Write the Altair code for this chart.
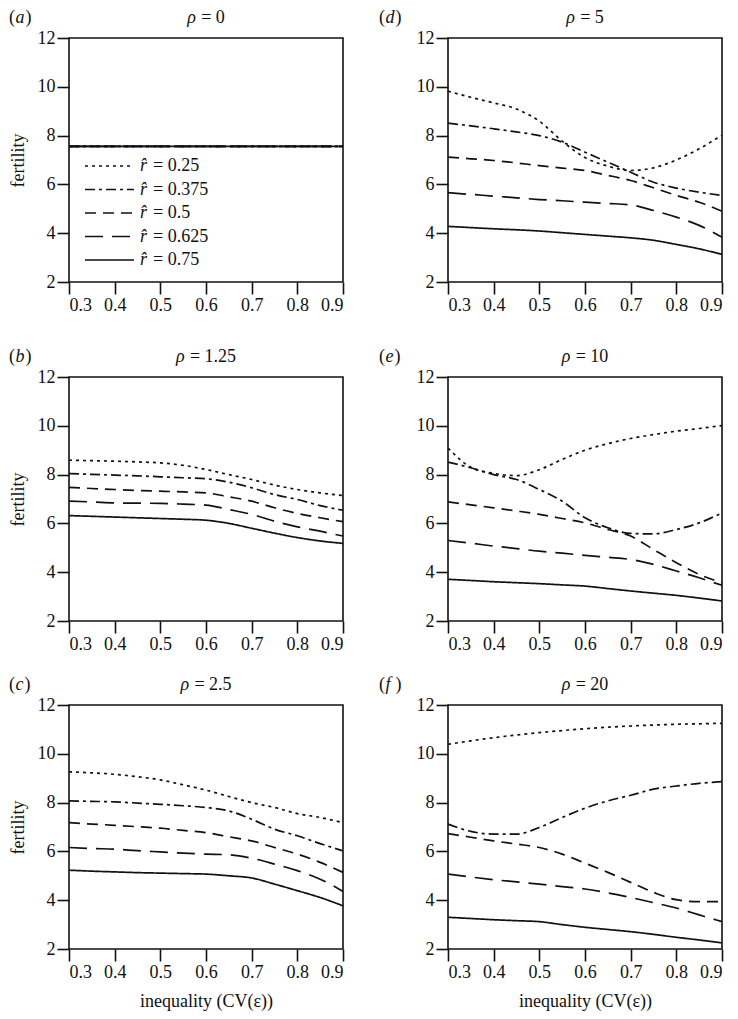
import altair as alt
import pandas as pd

# ---------------- data ----------------
cv = [0.3, 0.35, 0.4, 0.45, 0.5, 0.55, 0.6, 0.65, 0.7, 0.75, 0.8, 0.85, 0.9]
r_hat = ["0.25", "0.375", "0.5", "0.625", "0.75"]
x_ticks = [0.3, 0.4, 0.5, 0.6, 0.7, 0.8, 0.9]
y_ticks = [2, 4, 6, 8, 10, 12]
rho_labels = ["0", "1.25", "2.5", "5", "10", "20"]
panel_letters = ["a", "b", "c", "d", "e", "f"]

# fertility per r_hat (rows) along cv, one list of lists per panel
rho_0 = [
    [7.56, 7.56, 7.56, 7.56, 7.56, 7.56, 7.56, 7.56, 7.56, 7.56, 7.56, 7.56, 7.56],
    [7.56, 7.56, 7.56, 7.56, 7.56, 7.56, 7.56, 7.56, 7.56, 7.56, 7.56, 7.56, 7.56],
    [7.56, 7.56, 7.56, 7.56, 7.56, 7.56, 7.56, 7.56, 7.56, 7.56, 7.56, 7.56, 7.56],
    [7.56, 7.56, 7.56, 7.56, 7.56, 7.56, 7.56, 7.56, 7.56, 7.56, 7.56, 7.56, 7.56],
    [7.56, 7.56, 7.56, 7.56, 7.56, 7.56, 7.56, 7.56, 7.56, 7.56, 7.56, 7.56, 7.56],
]
rho_1_25 = [
    [8.59, 8.57, 8.55, 8.52, 8.48, 8.38, 8.21, 8.00, 7.80, 7.57, 7.39, 7.25, 7.14],
    [8.04, 8.01, 7.98, 7.95, 7.91, 7.87, 7.83, 7.69, 7.46, 7.18, 6.98, 6.73, 6.54],
    [7.48, 7.43, 7.39, 7.35, 7.32, 7.29, 7.25, 7.09, 6.91, 6.64, 6.41, 6.23, 6.07],
    [6.91, 6.88, 6.84, 6.83, 6.82, 6.79, 6.75, 6.57, 6.37, 6.09, 5.86, 5.68, 5.48],
    [6.32, 6.29, 6.26, 6.23, 6.20, 6.17, 6.13, 6.00, 5.80, 5.60, 5.42, 5.28, 5.18],
]
rho_2_5 = [
    [9.26, 9.22, 9.16, 9.06, 8.93, 8.73, 8.51, 8.25, 8.00, 7.80, 7.55, 7.39, 7.18],
    [8.07, 8.05, 8.03, 7.98, 7.93, 7.87, 7.80, 7.66, 7.32, 6.91, 6.64, 6.32, 6.02],
    [7.18, 7.12, 7.07, 7.01, 6.95, 6.86, 6.77, 6.60, 6.43, 6.16, 5.89, 5.55, 5.14],
    [6.16, 6.12, 6.09, 6.03, 5.98, 5.93, 5.89, 5.86, 5.72, 5.48, 5.21, 4.86, 4.36],
    [5.23, 5.19, 5.16, 5.13, 5.11, 5.09, 5.07, 5.00, 4.91, 4.66, 4.39, 4.11, 3.77],
]
rho_5 = [
    [9.82, 9.57, 9.34, 9.09, 8.59, 7.77, 7.10, 6.75, 6.57, 6.68, 7.00, 7.46, 8.02],
    [8.51, 8.40, 8.28, 8.15, 8.00, 7.73, 7.32, 6.91, 6.50, 6.09, 5.85, 5.68, 5.55],
    [7.12, 7.05, 6.98, 6.88, 6.77, 6.67, 6.57, 6.37, 6.16, 5.86, 5.55, 5.27, 4.90],
    [5.66, 5.59, 5.52, 5.45, 5.38, 5.33, 5.27, 5.22, 5.16, 4.93, 4.66, 4.32, 3.84],
    [4.28, 4.23, 4.18, 4.14, 4.09, 4.02, 3.95, 3.88, 3.81, 3.71, 3.54, 3.36, 3.13],
]
rho_10 = [
    [9.09, 8.30, 8.05, 7.96, 8.20, 8.62, 9.00, 9.27, 9.48, 9.64, 9.78, 9.89, 10.01],
    [8.51, 8.28, 8.00, 7.80, 7.39, 6.91, 6.23, 5.82, 5.59, 5.57, 5.75, 6.02, 6.43],
    [6.88, 6.76, 6.64, 6.51, 6.37, 6.20, 6.02, 5.75, 5.48, 4.93, 4.39, 3.91, 3.57],
    [5.30, 5.19, 5.07, 4.97, 4.86, 4.78, 4.69, 4.61, 4.52, 4.32, 4.05, 3.77, 3.46],
    [3.71, 3.66, 3.61, 3.57, 3.53, 3.48, 3.43, 3.33, 3.23, 3.14, 3.05, 2.94, 2.82],
]
rho_20 = [
    [10.39, 10.53, 10.66, 10.77, 10.87, 10.95, 11.03, 11.09, 11.14, 11.18, 11.21, 11.23, 11.25],
    [7.12, 6.82, 6.71, 6.71, 6.98, 7.39, 7.77, 8.07, 8.30, 8.55, 8.68, 8.79, 8.86],
    [6.73, 6.58, 6.43, 6.30, 6.16, 5.89, 5.52, 5.14, 4.73, 4.32, 4.02, 3.94, 3.94],
    [5.07, 4.95, 4.84, 4.75, 4.66, 4.56, 4.46, 4.30, 4.11, 3.90, 3.68, 3.40, 3.12],
    [3.30, 3.25, 3.20, 3.16, 3.12, 3.00, 2.89, 2.80, 2.71, 2.60, 2.48, 2.37, 2.25],
]
panels = [rho_0, rho_1_25, rho_2_5, rho_5, rho_10, rho_20]

# ---------------- style ----------------
FONT = "Liberation Serif"
FS = 18
INK = "#111111"
W, H = 274, 244
LW = 1.7
dashes = [[3, 4], [10, 4, 3, 4], [11, 7], [18, 9], [1, 0]]

x_scale = alt.Scale(domain=[0.3, 0.9], nice=False, zero=False)
y_scale = alt.Scale(domain=[2, 12], nice=False, zero=False)
dash_scale = alt.Scale(domain=r_hat, range=dashes)

CHARW = {".": 0.25, "=": 0.564, " ": 0.25}


def text_w(s):
    return sum(CHARW.get(c, 0.5) for c in s) * FS


def one():
    return alt.Data(values=[{"k": 1}])


def panel(i, left_col, bottom_row):
    rows = []
    for si, s in enumerate(r_hat):
        for xv, yv in zip(cv, panels[i][si]):
            rows.append({"cv": xv, "fert": yv, "series": s})
    df = pd.DataFrame(rows)

    x_axis = alt.Axis(values=x_ticks, format=".1f",
                      title="inequality (CV(ε))" if bottom_row else None,
                      titlePadding=11)
    y_axis = alt.Axis(values=y_ticks, format="d",
                      title="fertility" if left_col else None,
                      titlePadding=10)

    lines = alt.Chart(df).mark_line(strokeWidth=LW, color=INK, interpolate="monotone").encode(
        x=alt.X("cv:Q", scale=x_scale, axis=x_axis),
        y=alt.Y("fert:Q", scale=y_scale, axis=y_axis),
        strokeDash=alt.StrokeDash("series:N", scale=dash_scale, legend=None),
    )

    # panel title  "ρ = value" (italic rho)
    rest = "= " + rho_labels[i]
    rho_w = 9.5
    total = rho_w + 4.5 + text_w(rest)
    x0 = W / 2 - total / 2
    t_rho = alt.Chart(one()).mark_text(text="ρ", font=FONT, fontSize=FS, fontStyle="italic",
                                       align="left", baseline="alphabetic", color=INK).encode(
        x=alt.value(x0), y=alt.value(-15))
    t_rest = alt.Chart(one()).mark_text(text=rest, font=FONT, fontSize=FS,
                                        align="left", baseline="alphabetic", color=INK).encode(
        x=alt.value(x0 + rho_w + 4.5), y=alt.value(-15))

    # panel letter  "(a)"
    lx = -60 if left_col else -69
    letter = panel_letters[i]
    lw = {"a": 9, "b": 9, "c": 8, "d": 9, "e": 8, "f": 9}[letter]
    p_open = alt.Chart(one()).mark_text(text="(", font=FONT, fontSize=FS, align="left",
                                        baseline="alphabetic", color=INK).encode(
        x=alt.value(lx), y=alt.value(-15))
    p_let = alt.Chart(one()).mark_text(text=letter, font=FONT, fontSize=FS, fontStyle="italic",
                                       align="left", baseline="alphabetic", color=INK).encode(
        x=alt.value(lx + 6.5), y=alt.value(-15))
    p_close = alt.Chart(one()).mark_text(text=")", font=FONT, fontSize=FS, align="left",
                                         baseline="alphabetic", color=INK).encode(
        x=alt.value(lx + 6.5 + lw + 1), y=alt.value(-15))

    layers = [lines, t_rho, t_rest, p_open, p_let, p_close]

    if i == 0:
        leg = pd.DataFrame({"series": r_hat, "i": list(range(len(r_hat))),
                            "lab": ["= " + s for s in r_hat]})
        base = alt.Chart(leg).transform_calculate(
            fy="12 - (128 + datum.i * 23.5) / %f * 10" % H)
        leg_rule = base.mark_rule(strokeWidth=LW, color=INK).encode(
            x=alt.value(16), x2=alt.value(65),
            y=alt.Y("fy:Q", scale=y_scale, axis=y_axis),
            strokeDash=alt.StrokeDash("series:N", scale=dash_scale, legend=None))
        leg_r = base.mark_text(text="r\u0302", font=FONT, fontSize=FS, fontStyle="italic",
                               align="left", baseline="middle", color=INK).encode(
            x=alt.value(71), y=alt.Y("fy:Q", scale=y_scale, axis=y_axis))
        leg_t = base.mark_text(font=FONT, fontSize=FS, align="left", baseline="middle",
                               color=INK).encode(
            x=alt.value(84), y=alt.Y("fy:Q", scale=y_scale, axis=y_axis),
            text="lab:N")
        layers += [leg_rule, leg_r, leg_t]

    return alt.layer(*layers).properties(width=W, height=H)


row1 = alt.hconcat(panel(0, True, False), panel(3, False, False), spacing=30)
row2 = alt.hconcat(panel(1, True, False), panel(4, False, False), spacing=30)
row3 = alt.hconcat(panel(2, True, True), panel(5, False, True), spacing=30)

chart = alt.vconcat(row1, alt.vconcat(row2, row3, spacing=21), spacing=32).properties(
    padding=0
).configure_view(
    stroke=INK, strokeWidth=1.6
).configure_axis(
    domain=False, grid=False, ticks=True, tickSize=12, tickWidth=1.6, tickColor=INK,
    labelFont=FONT, labelFontSize=FS, labelColor=INK, labelPadding=2,
    titleFont=FONT, titleFontSize=FS, titleFontWeight="normal", titleColor=INK,
)

chart.save("out.html", embed_options={"renderer": "svg", "actions": False})
